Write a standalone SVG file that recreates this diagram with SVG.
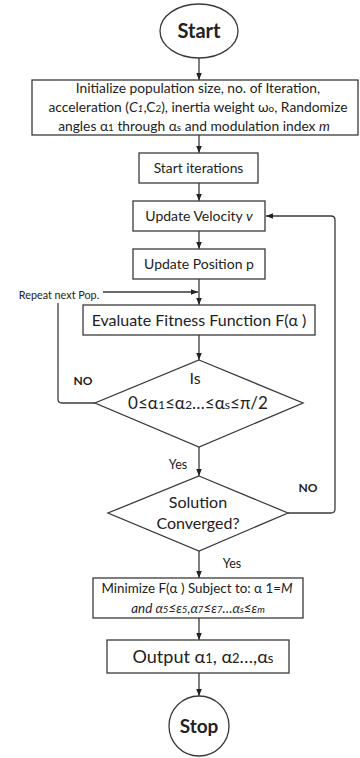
<svg xmlns="http://www.w3.org/2000/svg" width="360" height="758" viewBox="0 0 360 758">
<defs>
<style>
text{font-family:Lato,"Liberation Sans",sans-serif;fill:#222;text-anchor:middle}
.box{fill:#fff;stroke:#3a3a3a;stroke-width:1.3}
.ln{fill:none;stroke:#3a3a3a;stroke-width:1.3}
.b{font-weight:bold}
.s{font-size:72%}
.i{font-style:italic}
</style>
<marker id="ar" viewBox="0 0 10 10" refX="10" refY="5" markerWidth="7" markerHeight="7" orient="auto" markerUnits="userSpaceOnUse">
<path d="M0,1 L10,5 L0,9 z" fill="#222"/>
</marker>
</defs>
<rect width="360" height="758" fill="#fff"/>
<g id="connectors">
<line class="ln" x1="199" y1="58" x2="199" y2="80" marker-end="url(#ar)"/>
<line class="ln" x1="199" y1="135" x2="199" y2="153" marker-end="url(#ar)"/>
<line class="ln" x1="199" y1="183" x2="199" y2="201" marker-end="url(#ar)"/>
<line class="ln" x1="199" y1="231" x2="199" y2="249" marker-end="url(#ar)"/>
<line class="ln" x1="199" y1="279" x2="199" y2="305" marker-end="url(#ar)"/>
<line class="ln" x1="199" y1="335" x2="199" y2="360" marker-end="url(#ar)"/>
<line class="ln" x1="199" y1="447" x2="199" y2="476" marker-end="url(#ar)"/>
<line class="ln" x1="199" y1="551" x2="199" y2="578" marker-end="url(#ar)"/>
<line class="ln" x1="199" y1="618" x2="199" y2="640" marker-end="url(#ar)"/>
<line class="ln" x1="199" y1="673" x2="199" y2="696" marker-end="url(#ar)"/>
<line class="ln" x1="103" y1="292" x2="198" y2="292" marker-end="url(#ar)"/>
<path class="ln" d="M95,403 H62 Q58,403 58,399 V303"/>
<path class="ln" d="M288,513 H331 Q335,513 335,509 V220 Q335,216 331,216 H266" marker-end="url(#ar)"/>
<text x="59" y="299" style="font-size:10.8px">Repeat next Pop.</text>
<text x="83" y="385" class="b" style="font-size:12px">NO</text>
<text x="308" y="492" class="b" style="font-size:12px">NO</text>
<text x="178" y="469" style="font-size:12.5px">Yes</text>
<text x="232" y="568" style="font-size:12.5px">Yes</text>
</g>
<g id="start">
<ellipse class="box" cx="199" cy="31" rx="39" ry="27"/>
<text x="199" y="38" class="b" style="font-size:20px">Start</text>
</g>
<g id="init">
<rect class="box" x="32" y="80" width="326" height="55"/>
<text x="198" y="93" style="font-size:13.8px">Initialize population size, no. of Iteration,</text>
<text x="198" y="112" style="font-size:13.8px">acceleration (<tspan class="i">C<tspan class="s">1</tspan></tspan>,C<tspan class="s">2</tspan>), inertia weight ω<tspan class="s">o</tspan>, Randomize</text>
<text x="194" y="131" style="font-size:13.8px">angles α<tspan class="s">1</tspan> through α<tspan class="s">s</tspan> and modulation index <tspan class="i">m</tspan></text>
</g>
<g id="start-iterations">
<rect class="box" x="139" y="153" width="119" height="30"/>
<text x="198.5" y="173" style="font-size:13.8px">Start iterations</text>
</g>
<g id="update-velocity">
<rect class="box" x="133" y="201" width="132" height="30"/>
<text x="199" y="221" style="font-size:14px">Update Velocity <tspan class="i">v</tspan></text>
</g>
<g id="update-position">
<rect class="box" x="133" y="249" width="132" height="30"/>
<text x="199" y="269" style="font-size:14px">Update Position p</text>
</g>
<g id="evaluate">
<rect class="box" x="83" y="305" width="232" height="30"/>
<text x="199" y="326" style="font-size:16px">Evaluate Fitness Function F(α )</text>
</g>
<g id="check-order">
<polygon class="box" points="199,360 303,403 199,447 95,403"/>
<text x="195" y="384" style="font-size:16px">Is</text>
<text x="198" y="409" style="font-size:17px">0≤α<tspan class="s">1</tspan>≤α<tspan class="s">2</tspan>…≤α<tspan class="s">s</tspan>≤π/2</text>
</g>
<g id="converged">
<polygon class="box" points="199,476 288,513 199,551 108,513"/>
<text x="198" y="508" style="font-size:16px">Solution</text>
<text x="198" y="529" style="font-size:16px">Converged?</text>
</g>
<g id="minimize">
<rect class="box" x="93" y="578" width="210" height="40"/>
<text x="197" y="593" style="font-size:13.4px">Minimize F(α ) Subject to: α 1=<tspan class="i">M</tspan></text>
<text x="198" y="613" class="i" style="font-size:13.4px">and α<tspan class="s">5</tspan>≤ε<tspan class="s">5</tspan>,α<tspan class="s">7</tspan>≤ε<tspan class="s">7</tspan>…α<tspan class="s">s</tspan>≤ε<tspan class="s">m</tspan></text>
</g>
<g id="output">
<rect class="box" x="107" y="640" width="182" height="33"/>
<text x="203" y="663" style="font-size:18px">Output α<tspan class="s">1</tspan>, α<tspan class="s">2</tspan>…,α<tspan class="s">s</tspan></text>
</g>
<g id="stop">
<circle class="box" cx="199" cy="726" r="30"/>
<text x="199" y="733" class="b" style="font-size:19px">Stop</text>
</g>
</svg>
